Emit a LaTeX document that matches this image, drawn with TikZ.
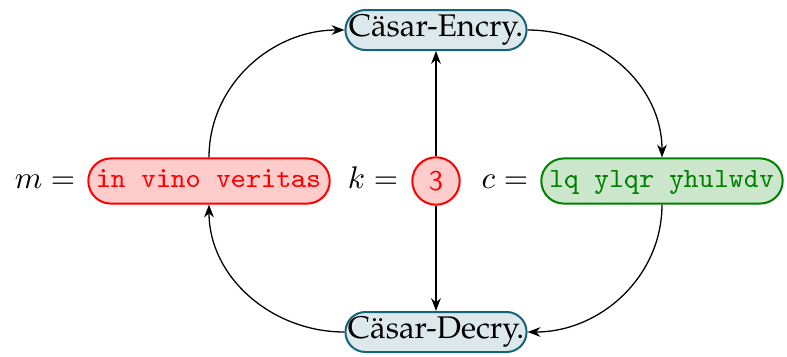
\documentclass[tikz,border=0pt]{standalone}
\usepackage[T1]{fontenc}
\usepackage{palatino}
\renewcommand{\ttdefault}{cmtt}
\usetikzlibrary{arrows.meta}
\definecolor{encfill}{RGB}{220,232,236}
\definecolor{encdraw}{RGB}{20,100,120}
\definecolor{cgreen}{RGB}{0,128,0}
\begin{document}
\begin{tikzpicture}[x=0.35pt,y=-0.35pt,
  procbox/.style={draw=encdraw,fill=encfill,line width=0.7pt,rounded corners=7pt,
    minimum width=63.4pt,minimum height=14pt,inner sep=0pt,font=\rmfamily\fontsize{10.95}{13}\selectfont},
  msgbox/.style={line width=0.7pt,rounded corners=7.9pt,minimum width=84.5pt,
    minimum height=15.8pt,inner sep=0pt,text height=6.3pt,text depth=2pt,font=\ttfamily},
  keybox/.style={circle,draw=red,fill=red!20,text=red,line width=0.7pt,
    minimum size=16.6pt,inner sep=0pt,font=\usefont{OT1}{cmss}{m}{n}},
  lbl/.style={anchor=base,inner sep=0pt,font=\fontsize{10.95}{13}\selectfont},
  conn/.style={-{Stealth[length=4.5pt,width=3.4pt]},line width=0.45pt}]
\useasboundingbox (0,0) rectangle (787,356);
\node[procbox] (enc) at (436,30) {C\"asar-Encry.};
\node[procbox] (dec) at (436,332) {C\"asar-Decry.};
\node[msgbox,draw=red,fill=red!20,text=red] (m) at (209,181) {in vino veritas};
\node[msgbox,draw=cgreen,fill=cgreen!20,text=cgreen] (c) at (662,181) {lq ylqr yhulwdv};
\node[keybox] (k) at (436,181) {3};
\node[lbl] (ml) at (45,188) {$m=$};
\node[lbl] (kl) at (373,188) {$k=$};
\node[lbl] (cl) at (505,188) {$c=$};
\draw[conn] (m.north) to[out=90,in=180] (enc.west);
\draw[conn] (enc.east) to[out=0,in=90] (c.north);
\draw[conn] (c.south) to[out=-90,in=0] (dec.east);
\draw[conn] (dec.west) to[out=180,in=-90] (m.south);
\draw[conn] (k.north) -- (enc.south);
\draw[conn] (k.south) -- (dec.north);
\end{tikzpicture}
\end{document}
